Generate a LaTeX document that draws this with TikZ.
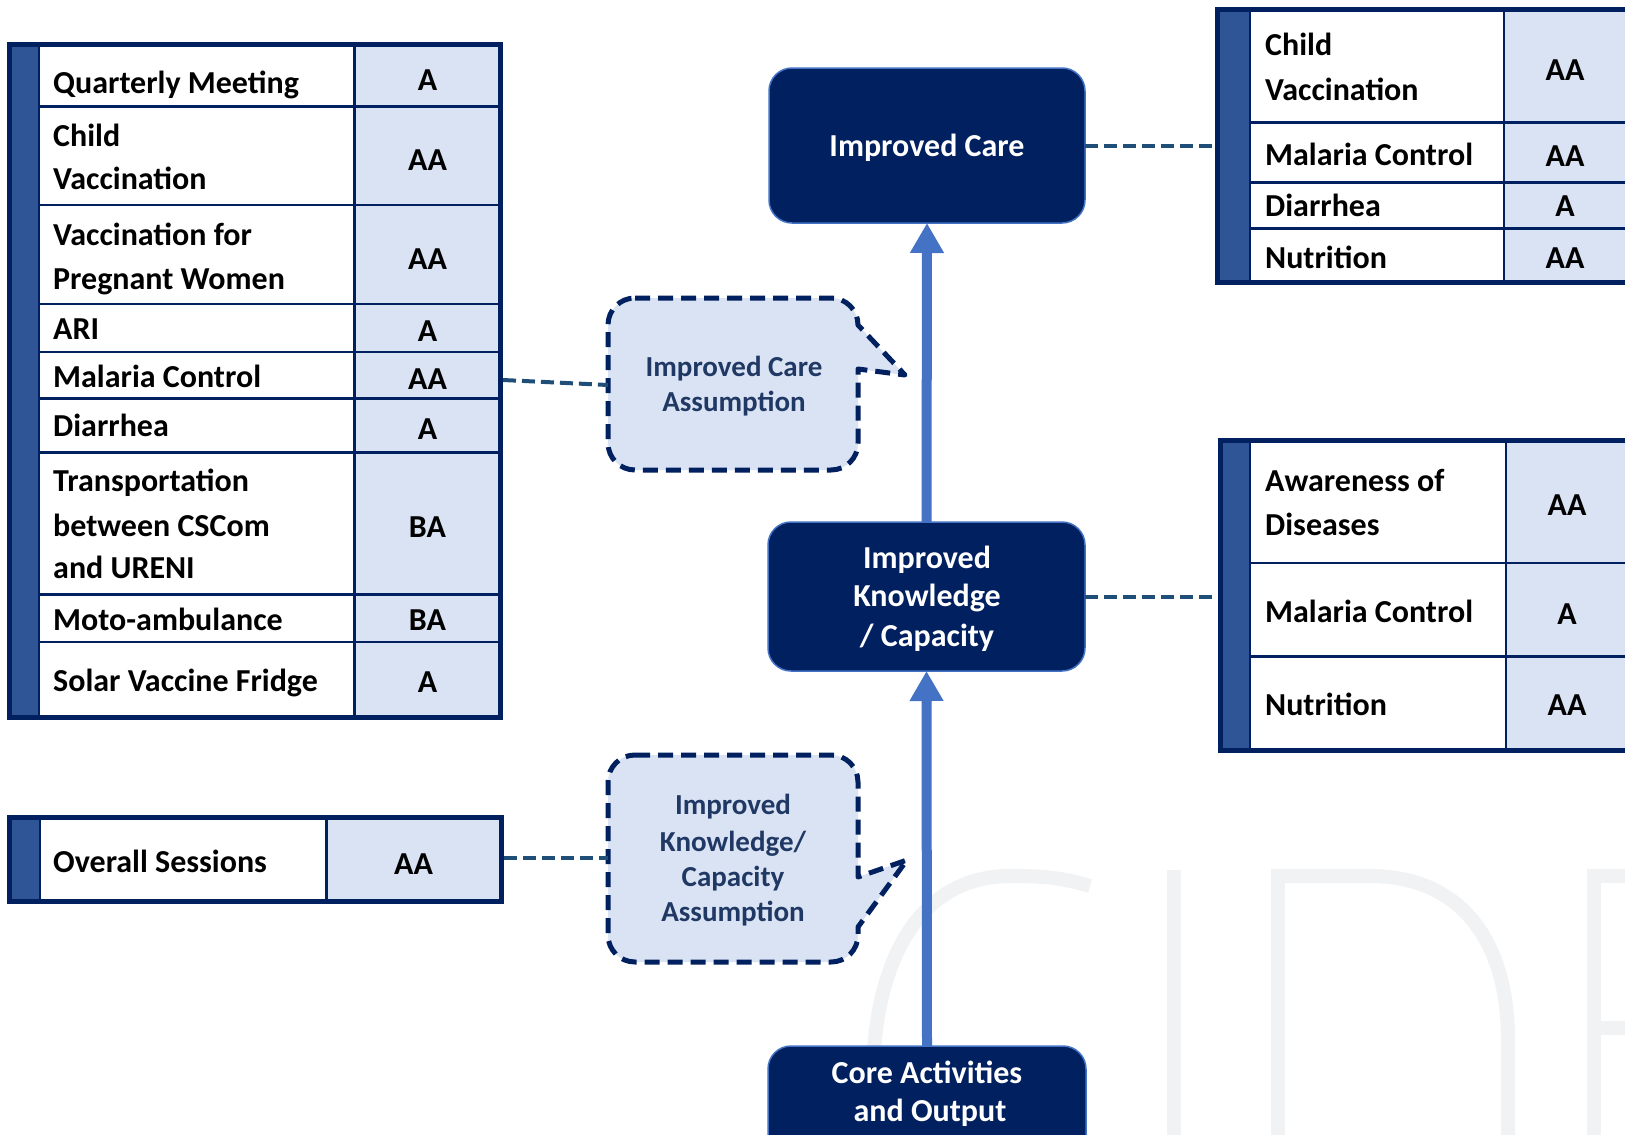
\documentclass[tikz,border=0pt]{standalone}
\usepackage{fontspec}
\setmainfont{Carlito}
\usetikzlibrary{arrows.meta}

\definecolor{navy}{HTML}{002060}
\definecolor{stripe}{HTML}{2F5597}
\definecolor{valfill}{HTML}{DAE3F3}
\definecolor{flowblue}{HTML}{4472C4}
\definecolor{linkblue}{HTML}{1F4E79}
\definecolor{calltext}{HTML}{203864}
\definecolor{wmgray}{HTML}{F1F2F4}

\tikzset{
  cell/.style={font=\bfseries\fontsize{32pt}{40pt}\selectfont, inner sep=0pt, anchor=base west, text=black},
  val/.style={font=\bfseries\fontsize{32pt}{40pt}\selectfont, inner sep=0pt, anchor=base, text=black},
  boxtxt/.style={font=\bfseries\fontsize{32pt}{40pt}\selectfont, inner sep=0pt, anchor=base, text=white},
  calltxt/.style={font=\bfseries\fontsize{29pt}{35pt}\selectfont, inner sep=0pt, anchor=base, text=calltext},
  stagebox/.style={draw=flowblue, line width=1.5pt, fill=navy, rounded corners=23pt, inner sep=0pt, outer sep=0pt},
  tabgrid/.style={draw=navy, line width=2.5pt},
  tabframe/.style={draw=navy, line width=5pt},
  dashlink/.style={draw=linkblue, line width=4pt, dash pattern=on 13pt off 6pt},
  balloon/.style={draw=navy, fill=valfill, line width=5pt, dash pattern=on 15pt off 8pt, line join=round},
  flowarrow/.style={draw=flowblue, line width=10pt, -{Triangle[width=32pt,length=30pt]}},
  wmstroke/.style={draw=wmgray, line width=14pt}
}

\begin{document}
\begin{tikzpicture}[x=1pt,y=-1pt]
\useasboundingbox (0,0) rectangle (1625,1135);
\clip (0,0) rectangle (1625,1135);
\fill[white] (0,0) rectangle (1625,1135);

% faint logo letters in the background
\draw[wmstroke] (1090,886) .. controls (1060,877) and (1040,876) .. (1010,876)
  .. controls (920,876) and (873,960) .. (873,1080) -- (873,1200);
\draw[wmstroke] (1174,870) -- (1174,1200);
\draw[wmstroke] (1278,870) -- (1278,1200);
\draw[wmstroke] (1271,876) -- (1370,876) .. controls (1460,876) and (1508,940) .. (1508,1040) -- (1508,1200);
\draw[wmstroke] (1594,870) -- (1594,1200);
\draw[wmstroke] (1587,876) -- (1640,876);
\draw[wmstroke] (1594,1028) -- (1640,1028);

% ---------- left table: activities ----------
\fill[stripe] (9,44.5) rectangle (39,717.5);
\fill[white] (39,44.5) rectangle (354.5,717.5);
\fill[valfill] (354.5,44.5) rectangle (500.5,717.5);
\foreach \y in {106.7,205,304,352,398.5,452.5,594.5,642}
  \draw[tabgrid] (39,\y) -- (500.5,\y);
\draw[tabgrid] (39,44.5) -- (39,717.5);
\draw[tabgrid] (354.5,44.5) -- (354.5,717.5);
\draw[tabframe] (9,44.5) rectangle (500.5,717.5);

\node[cell] (a1) at (53,93) {Quarterly Meeting};
\node[val] (a1v) at (427.5,90) {A};
\node[cell] (a2) at (53,146.7) {Child};
\node[cell] (a2b) at (53,189.3) {Vaccination};
\node[val] (a2v) at (427.5,170) {AA};
\node[cell] (a3) at (53,245) {Vaccination for};
\node[cell] (a3b) at (53,289) {Pregnant Women};
\node[val] (a3v) at (427.5,269) {AA};
\node[cell] (a4) at (53,339) {ARI};
\node[val] (a4v) at (427.5,341.7) {A};
\node[cell] (a5) at (53,387) {Malaria Control};
\node[val] (a5v) at (427.5,389) {AA};
\node[cell] (a6) at (53,436.7) {Diarrhea};
\node[val] (a6v) at (427.5,439) {A};
\node[cell] (a7) at (53,491.7) {Transportation};
\node[cell] (a7b) at (53,536) {between CSCom};
\node[cell] (a7c) at (53,578.3) {and URENI};
\node[val] (a7v) at (427.5,537.3) {BA};
\node[cell] (a8) at (53,630.7) {Moto-ambulance};
\node[val] (a8v) at (427.5,630.7) {BA};
\node[cell] (a9) at (53,691.7) {Solar Vaccine Fridge};
\node[val] (a9v) at (427.5,692.3) {A};
\coordinate (tabA-e) at (503,380);

% ---------- left table: sessions ----------
\fill[stripe] (9,817) rectangle (40,901);
\fill[white] (40,817) rectangle (326.5,901);
\fill[valfill] (326.5,817) rectangle (501.5,901);
\draw[tabgrid] (40,817) -- (40,901);
\draw[tabgrid] (326.5,817) -- (326.5,901);
\draw[tabframe] (9,817) rectangle (501.5,901);
\node[cell] (b1) at (53,872) {Overall Sessions};
\node[val] (b1v) at (413.5,874) {AA};
\coordinate (tabB-e) at (504,858);

% ---------- right table: care ----------
\fill[stripe] (1217.5,9) rectangle (1250,282.5);
\fill[white] (1250,9) rectangle (1504,282.5);
\fill[valfill] (1504,9) rectangle (1640,282.5);
\foreach \y in {122.3,182.7,228.3}
  \draw[tabgrid] (1250,\y) -- (1640,\y);
\draw[tabgrid] (1250,9) -- (1250,282.5);
\draw[tabgrid] (1504,9) -- (1504,282.5);
\draw[tabframe] (1217.5,9) rectangle (1640,282.5);
\node[cell] (c1) at (1265,55) {Child};
\node[cell] (c1b) at (1265,100) {Vaccination};
\node[val] (c1v) at (1565,80) {AA};
\node[cell] (c2) at (1265,165.7) {Malaria Control};
\node[val] (c2v) at (1565,166.7) {AA};
\node[cell] (c3) at (1265,216.7) {Diarrhea};
\node[val] (c3v) at (1565,216.7) {A};
\node[cell] (c4) at (1265,268.3) {Nutrition};
\node[val] (c4v) at (1565,268.3) {AA};
\coordinate (tabC-w) at (1215,145.5);

% ---------- right table: knowledge ----------
\fill[stripe] (1220,440) rectangle (1250,750.5);
\fill[white] (1250,440) rectangle (1506,750.5);
\fill[valfill] (1506,440) rectangle (1640,750.5);
\foreach \y in {563,656.5}
  \draw[tabgrid] (1250,\y) -- (1640,\y);
\draw[tabgrid] (1250,440) -- (1250,750.5);
\draw[tabgrid] (1506,440) -- (1506,750.5);
\draw[tabframe] (1220,440) rectangle (1640,750.5);
\node[cell] (d1) at (1265,491.7) {Awareness of};
\node[cell] (d1b) at (1265,535) {Diseases};
\node[val] (d1v) at (1567,515.7) {AA};
\node[cell] (d2) at (1265,622.3) {Malaria Control};
\node[val] (d2v) at (1567,624) {A};
\node[cell] (d3) at (1265,715) {Nutrition};
\node[val] (d3v) at (1567,715) {AA};
\coordinate (tabD-w) at (1217,596.5);

% ---------- assumption balloons ----------
\draw[balloon] (635,298) -- (831,298) .. controls (846,298) and (858,310) .. (858,325)
  -- (905,375) -- (858,369) -- (858,443) .. controls (858,458) and (846,470) .. (831,470)
  -- (635,470) .. controls (620,470) and (608,458) .. (608,443)
  -- (608,325) .. controls (608,310) and (620,298) .. (635,298) -- cycle;
\coordinate (callA-w) at (608,385);
\node[calltxt] (e1) at (734,376.7) {Improved Care};
\node[calltxt] (e1b) at (734,411.7) {Assumption};

\draw[balloon] (635,755) -- (831,755) .. controls (846,755) and (858,767) .. (858,782)
  -- (858,877) -- (907,860) -- (858,927) -- (858,935)
  .. controls (858,950) and (846,962) .. (831,962)
  -- (635,962) .. controls (620,962) and (608,950) .. (608,935)
  -- (608,782) .. controls (608,767) and (620,755) .. (635,755) -- cycle;
\coordinate (callB-w) at (608,858);
\node[calltxt] (f1) at (733,814) {Improved};
\node[calltxt] (f1b) at (733,851.7) {Knowledge/};
\node[calltxt] (f1c) at (733,886.7) {Capacity};
\node[calltxt] (f1d) at (733,921.7) {Assumption};

% ---------- result chain ----------
\node[stagebox, minimum width=316pt, minimum height=155pt] (care) at (927,145.5) {};
\node[stagebox, minimum width=317pt, minimum height=149pt] (know) at (926.5,596.5) {};
\node[stagebox, minimum width=318pt, minimum height=120pt] (core) at (927,1106) {};

\node[boxtxt] (g1) at (927,156.7) {Improved Care};
\node[boxtxt] (h1) at (927,568.3) {Improved};
\node[boxtxt] (h2) at (927,606.7) {Knowledge};
\node[boxtxt] (h3) at (927,646.7) {/ Capacity};
\node[boxtxt] (k1) at (927,1083.3) {Core Activities};
\node[boxtxt] (k2) at (930,1121.7) {and Output};

\draw[flowarrow] (know.north) -- (care.south);
\draw[flowarrow] (core.north) -- (know.south);

% ---------- dashed links ----------
\draw[dashlink] (care.east) -- (tabC-w);
\draw[dashlink] (know.east) -- (tabD-w);
\draw[dashlink] (tabA-e) -- (callA-w);
\draw[dashlink] (tabB-e) -- (callB-w);
\end{tikzpicture}
\end{document}
